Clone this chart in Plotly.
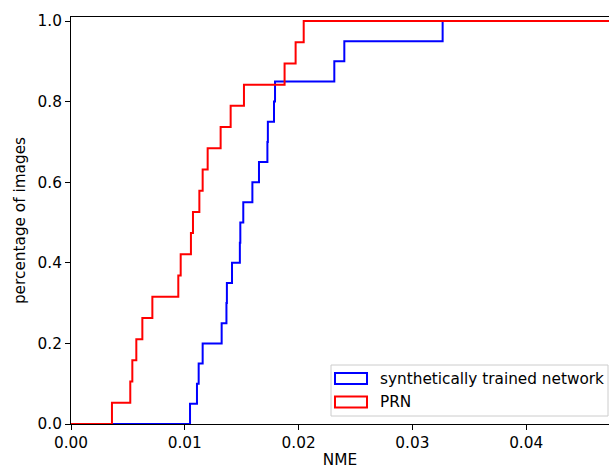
import numpy as np
import plotly.graph_objects as go

# NME values (sorted), one per image
synthetic_nme = [0.01046, 0.01107, 0.01122, 0.01157, 0.01324, 0.01366, 0.01370,
                 0.01415, 0.01484, 0.01488, 0.01514, 0.01594, 0.01652, 0.01726,
                 0.01730, 0.01784, 0.01793, 0.02314, 0.02402, 0.03266]
prn_nme = [0.00360, 0.00521, 0.00539, 0.00574, 0.00627, 0.00715, 0.00943,
           0.00964, 0.01054, 0.01072, 0.01128, 0.01157, 0.01201, 0.01315,
           0.01403, 0.01520, 0.01877, 0.01974, 0.02045]
series_names = ["synthetically trained network", "PRN"]
series_colors = ["#0000ff", "#ff0000"]
x_ticks = [0.0, 0.01, 0.02, 0.03, 0.04]
y_ticks = [0.0, 0.2, 0.4, 0.6, 0.8, 1.0]

X_MAX = 0.04728
Y_MAX = 1.01
FONT = dict(family="DejaVu Sans", size=15.3, color="#000000")

W, H = 609, 469
ML, MT, MB, MR = 71, 17, 45, 0

fig = go.Figure()

for vals, name, color in zip([synthetic_nme, prn_nme], series_names, series_colors):
    v = np.sort(np.asarray(vals))
    cdf = np.arange(1, len(v) + 1) / len(v)
    xs = np.concatenate([[0.0], v, [X_MAX * 1.05]])
    ys = np.concatenate([[0.0], cdf, [1.0]])
    fig.add_trace(go.Scatter(x=xs, y=ys, mode="lines", name=name,
                             line=dict(color=color, width=2, shape="hv"),
                             showlegend=False, hoverinfo="skip"))

fig.update_layout(
    width=W, height=H,
    margin=dict(l=ML, r=MR, t=MT, b=MB, pad=0),
    paper_bgcolor="white", plot_bgcolor="white",
    font=FONT,
    showlegend=False,
)
fig.update_xaxes(
    range=[0, X_MAX], tickvals=x_ticks, tickformat=".2f",
    showline=True, linecolor="black", linewidth=1, mirror=True,
    ticks="outside", ticklen=5, tickwidth=1, tickcolor="black",
    showgrid=False, zeroline=False, automargin=False,
    title=dict(text="NME", font=FONT, standoff=6),
)
fig.update_yaxes(
    range=[0, Y_MAX], tickvals=y_ticks, tickformat=".1f",
    showline=True, linecolor="black", linewidth=1, mirror=False,
    ticks="outside", ticklen=5, tickwidth=1, tickcolor="black",
    showgrid=False, zeroline=False, automargin=False,
    title=dict(text="percentage of images", font=FONT, standoff=8),
)

# Legend drawn in paper coordinates (matplotlib-style patch handles).
# Positions below are window pixels of the reference.
PW = W - ML - MR
PH = H - MT - MB

def px_x(p):
    return (p - ML) / PW

def px_y(p):
    return (H - MB - p) / PH

fig.add_shape(type="rect", xref="paper", yref="paper",
              x0=px_x(331), x1=px_x(608), y0=px_y(416), y1=px_y(365),
              line=dict(color="#cccccc", width=1), fillcolor="rgba(255,255,255,0.8)",
              layer="above")
for i, (name, color) in enumerate(zip(series_names, series_colors)):
    top = 373 + i * 23.5
    fig.add_shape(type="rect", xref="paper", yref="paper",
                  x0=px_x(335), x1=px_x(367), y0=px_y(top + 11), y1=px_y(top),
                  line=dict(color=color, width=2), fillcolor="rgba(0,0,0,0)",
                  layer="above")
    fig.add_annotation(xref="paper", yref="paper", x=px_x(378), y=px_y(top + 5.5),
                       text=name, showarrow=False, xanchor="left", yanchor="middle",
                       font=FONT)

# remove the page's default body margin so the figure fills the window exactly
fig.write_html(
    "out.html",
    config={"displayModeBar": False},
    post_script="document.body.style.margin='0';"
                "document.documentElement.style.overflow='hidden';",
)
